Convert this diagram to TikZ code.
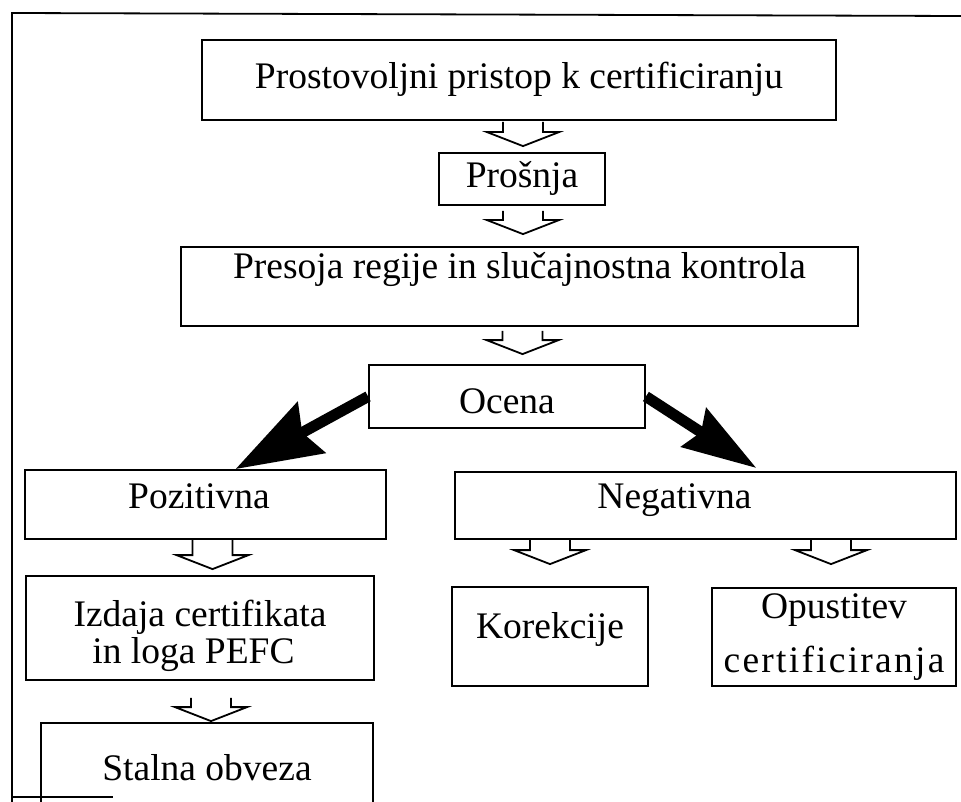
\documentclass[tikz,border=0pt]{standalone}
\usepackage{fontspec}
\setmainfont{Liberation Serif}
\usetikzlibrary{arrows.meta,calc}

\begin{document}
\begin{tikzpicture}
        [
            x = 1pt, y = -1pt,
            every node/.append style = {draw, line width = 1.8pt, inner sep = 0pt, anchor = base, font = \fontsize{37.5}{44}\selectfont},
            hollow/.style = {line width = 1.8pt, to path = {let \p1 = (\tikztostart), \p2 = (\tikztotarget) in
                (\x1-20pt,\y1) -- (\x1-20pt,\y2+14pt) -- (\x1-36pt,\y2+14pt) -- (\x1,\y2) -- (\x1+36pt,\y2+14pt) -- (\x1+20pt,\y2+14pt) -- (\x1+20pt,\y1)}},
            thick arrow/.style = {line width = 11pt}]
        \useasboundingbox (0,0) rectangle (961,802);
        \clip (0,0) rectangle (961,802);
        \draw[line width = 1.8pt] (961,16) -- (12,13) -- (12,802);
        \draw[line width = 1.8pt] (12,797) -- (113,797);
        \node[minimum width = 634pt, text height = 49pt, text depth = 31pt] (pristop) at (519,89) {Prostovoljni pristop k certificiranju};
        \node[minimum width = 166pt, text height = 35pt, text depth = 17pt] (prosnja) at (522,188) {Prošnja};
        \node[minimum width = 677pt, text height = 32pt, text depth = 47pt] (presoja) at (519.5,279) {Presoja regije in slučajnostna kontrola};
        \node[minimum width = 276pt, text height = 48pt, text depth = 15pt] (ocena) at (507,413) {Ocena};
        \node[minimum width = 361pt, text height = 38pt, text depth = 31pt] (pozitivna) at (205.5,508) {Pozitivna\hspace*{13pt}};
        \node[minimum width = 501pt, text height = 36pt, text depth = 31pt] (negativna) at (705.5,508) {Negativna\hspace*{62pt}};
        \node[anchor = center, align = center, minimum width = 348pt, minimum height = 104pt] (izdaja) at (200,628) {\rule{0pt}{42pt}Izdaja certifikata\\[-7pt]in loga PEFC\hspace*{13pt}};
        \node[minimum width = 196pt, text height = 51pt, text depth = 48pt] (korekcije) at (550,638) {Korekcije};
        \node[anchor = center, align = center, minimum width = 244pt, minimum height = 98pt] (opustitev) at (834,637) {Opustitev\\[10pt]{\addfontfeatures{LetterSpace=6}certificiranja}};
        \node[minimum width = 332pt, text height = 57pt, text depth = 35pt] (stalna) at (207,780) {Stalna obveza};
        \draw[hollow] ([xshift = 4pt, yshift = -1pt]pristop.south) to ([yshift = 6pt]prosnja.north);
        \draw[hollow] ([xshift = 1pt, yshift = -5pt]prosnja.south) to ([yshift = 12pt]presoja.north);
        \draw[hollow] ([xshift = 3pt, yshift = -4pt]presoja.south) to ([yshift = 10pt]ocena.north);
        \draw[hollow] ([xshift = 7pt]pozitivna.south) to ([yshift = 6pt]izdaja.north);
        \draw[hollow] (korekcije.north |- negativna.south) to ([yshift = 22pt]korekcije.north);
        \draw[hollow] ([xshift = -3pt]opustitev.north |- negativna.south) to ([yshift = 23pt]opustitev.north);
        \draw[hollow] ([xshift = 11pt, yshift = -17pt]izdaja.south) to ([yshift = 1pt]stalna.north);
        \draw[thick arrow, -{Stealth[length = 86pt, width = 57pt, inset = 10pt]}] (ocena.west) -- ([xshift = 30pt]pozitivna.north);
        \draw[thick arrow, -{Stealth[length = 74pt, width = 45pt, inset = 8pt]}] (ocena.east) -- ([xshift = 51pt, yshift = 3pt]negativna.north);
    \end{tikzpicture}
\end{document}
